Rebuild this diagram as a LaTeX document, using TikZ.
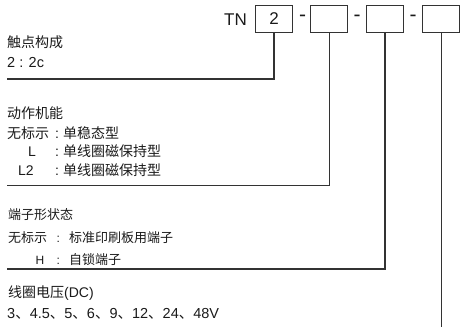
\documentclass[tikz,border=0pt]{standalone}
\usepackage{fontspec}
\setmainfont{Liberation Sans}
\newfontfamily\cjk{Noto Sans CJK SC}
\definecolor{linec}{HTML}{333333}
\definecolor{txtc}{HTML}{1A1A1A}
\tikzset{
  codebox/.style={draw=linec, line width=1pt, minimum width=36.8pt, minimum height=27pt, inner sep=0pt},
  conn/.style={draw=linec, line width=1.1pt},
  lbl/.style={anchor=base west, inner sep=0pt, text=txtc, font=\fontsize{14}{14}\selectfont},
  lbls/.style={anchor=base west, inner sep=0pt, text=txtc, font=\fontsize{13}{13}\selectfont},
  colon/.style={anchor=base, inner sep=0pt, text=txtc, font=\fontsize{14}{14}\selectfont},
  big/.style={inner sep=0pt, text=txtc, font=\fontsize{17}{17}\selectfont},
  dashmark/.style={inner sep=0pt, text=txtc, anchor=base, font=\fontsize{21}{21}\selectfont},
}
\begin{document}
\begin{tikzpicture}[x=1pt,y=-1pt]
\useasboundingbox (0,0) rectangle (465,327);
% header
\node[big, anchor=base east] (tn) at (247,25) {TN};
\node[codebox, big, text height=12.2pt, text depth=0pt] (b1) at (274,18.5) {2};
\node[codebox] (b2) at (329.3,18.5) {};
\node[codebox] (b3) at (385,18.5) {};
\node[codebox] (b4) at (441.3,18.5) {};
\node[dashmark] (d1) at (302.5,21) {-};
\node[dashmark] (d2) at (357.2,21) {-};
\node[dashmark] (d3) at (413,21) {-};
% connectors
\coordinate (h1) at (7,79);
\coordinate (h2) at (7,185.5);
\coordinate (h3) at (7,269);
\coordinate (e4) at (441.3,327);
\draw[conn] (b1.south) |- (h1);
\draw[conn] (b2.south) |- (h2);
\draw[conn] (b3.south) |- (h3);
\draw[conn] (b4.south) -- (e4);
% block 1
\node[lbl] (t1) at (7,47) {\cjk 触点构成};
\node[lbl, font=\fontsize{14.5}{14.5}\selectfont] (t1a) at (7,67.5) {2 : 2c};
% block 2
\node[lbl] (t2) at (7,118.3) {\cjk 动作机能};
\node[lbl] (t2a) at (7,138.3) {\cjk 无标示};
\node[colon] (c2a) at (57,138.3) {:};
\node[lbl] (v2a) at (63,138.3) {\cjk 单稳态型};
\node[lbl] (t2b) at (28,156.3) {L};
\node[colon] (c2b) at (57,156.3) {:};
\node[lbl] (v2b) at (63,156.3) {\cjk 单线圈磁保持型};
\node[lbl] (t2c) at (18,175) {L2};
\node[colon] (c2c) at (57,175) {:};
\node[lbl] (v2c) at (63,175) {\cjk 单线圈磁保持型};
% block 3
\node[lbls] (t3) at (8,219) {\cjk 端子形状态};
\node[lbls] (t3a) at (8,242.5) {\cjk 无标示};
\node[colon, font=\fontsize{12}{12}\selectfont] (c3a) at (58.3,242.5) {:};
\node[lbls] (v3a) at (69,242.5) {\cjk 标准印刷板用端子};
\node[lbls, font=\fontsize{12}{12}\selectfont] (t3b) at (35.5,264.5) {H};
\node[colon, font=\fontsize{12}{12}\selectfont] (c3b) at (58.3,264.5) {:};
\node[lbls] (v3b) at (69,264.5) {\cjk 自锁端子};
% block 4
\node[lbl] (t4) at (8,297) {{\cjk 线圈电压}(DC)};
\node[lbl, font=\fontsize{14.5}{14.5}\selectfont] (t4a) at (7,318) {3{\cjk 、}4.5{\cjk 、}5{\cjk 、}6{\cjk 、}9{\cjk 、}12{\cjk 、}24{\cjk 、}48V};
\end{tikzpicture}
\end{document}
